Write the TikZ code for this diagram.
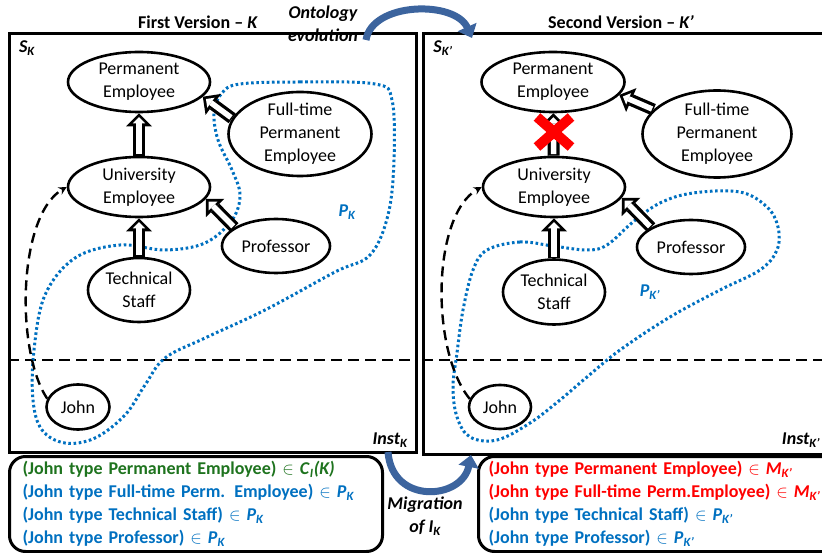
\documentclass[tikz,border=0pt]{standalone}
\usepackage{fontspec}
\setmainfont{Carlito}
\usepackage{tikz}
\usetikzlibrary{arrows.meta, positioning, shapes.geometric, shapes.misc}
\definecolor{kblue}{RGB}{0,112,192}
\definecolor{kgreen}{RGB}{30,115,30}
\definecolor{kred}{RGB}{255,0,0}
\definecolor{flowblue}{RGB}{60,100,158}
\newcommand{\ksub}[2]{\textit{#1}\textsubscript{\textit{#2}}}

\begin{document}
\begin{tikzpicture}[
  x=1pt, y=-1pt,
  cls/.style={ellipse, draw, line width=2.6pt, inner sep=-3pt, align=center, font=\fontsize{18}{23}\selectfont},
  isa/.style={line width=12pt, -{Triangle[width=26pt, length=13pt, line width=0pt]},
    postaction={draw=white, line width=5.5pt, shorten <=1.5pt, shorten >=3.9pt, -{Triangle[width=12.4pt, length=6.2pt, line width=0pt]}}},
  inst/.style={line width=2.4pt, dash pattern=on 10pt off 6pt, -{Stealth[length=8pt, width=8pt]}},
  area/.style={kblue, line width=3pt, dash pattern=on 2.6pt off 2.6pt},
  sep/.style={line width=2.4pt, dash pattern=on 11pt off 6pt},
  frame/.style={draw, line width=3pt, rectangle, inner sep=0pt, anchor=north west},
  tag/.style={font=\fontsize{18}{23}\selectfont\bfseries\itshape},
  facts/.style={draw, line width=3pt, rounded corners=16pt, anchor=north west, align=left, inner ysep=0pt, minimum height=95pt, font=\fontsize{18}{23}\selectfont\bfseries},
  flow/.style={flowblue, line width=7pt, -{Triangle[width=20pt, length=12pt]}}
]
\useasboundingbox (0,0) rectangle (822,553);

% the two versions
\node[frame, minimum width=407pt, minimum height=419pt] (box1) at (8,32) {};
\node[frame, minimum width=404pt, minimum height=421pt] (box2) at (422,32) {};
\coordinate (cut) at (0,360);
\draw[sep] (box1.west |- cut) -- (box1.east |- cut);
\draw[sep] (box2.west |- cut) -- (box2.east |- cut);

\node[font=\fontsize{18}{23}\selectfont\bfseries] (t1) at (198,22) {First Version – \textit{K}};
\node[font=\fontsize{18}{23}\selectfont\bfseries] (t2) at (621,22) {Second Version – \textit{K’}};
\node[tag] (sk1) at (27,48) {S\textsubscript{K}};
\node[tag] (sk2) at (443,48) {S\textsubscript{K’}};
\node[tag] (ik1) at (390,440) {Inst\textsubscript{K}};
\node[tag] (ik2) at (801,440) {Inst\textsubscript{K’}};

% first version
\draw[area] plot[smooth cycle, tension=0.6] coordinates {(240,84) (300,82) (375,84) (392,100) (394,160) (388,215) (370,255) (335,272) (265,310) (205,338) (165,358) (145,385) (125,415) (95,438) (65,443) (42,430) (33,400) (34,350) (45,295) (75,258) (120,245) (165,250) (205,243) (232,220) (240,195) (232,170) (218,140) (214,112) (222,93)};
\node[tag, kblue] (pk1) at (347,212) {P\textsubscript{K}};

\node[cls, minimum width=142pt, minimum height=60pt] (pe1) at (139,82) {Permanent\\Employee};
\node[cls, minimum width=143pt, minimum height=84pt] (ft1) at (300,134) {Full-time\\Permanent\\Employee};
\node[cls, minimum width=142pt, minimum height=60pt] (ue1) at (139,187) {University\\Employee};
\node[cls, minimum width=108pt, minimum height=54pt] (pr1) at (276,246) {Professor};
\node[cls, minimum width=102pt, minimum height=64pt] (ts1) at (139,290) {Technical\\Staff};
\node[cls, minimum width=63pt, minimum height=45pt] (jo1) at (78,407) {John};

\draw[isa] (ue1) -- (pe1);
\draw[isa] (ft1.167) -- (pe1.-13);
\draw[isa] (pr1.156) -- (ue1.-10);
\draw[isa] (ts1) -- (ue1);
\draw[inst] (jo1.165) .. controls (15,350) and (18,215) .. (ue1.west);

% second version
\draw[area] plot[smooth cycle, tension=0.6] coordinates {(487,250) (520,242) (553,246) (587,250) (607,245) (633,222) (660,203) (693,193) (740,192) (767,207) (778,227) (777,250) (760,270) (720,290) (670,317) (620,350) (587,377) (560,400) (530,423) (497,440) (470,437) (457,417) (453,387) (457,353) (463,310) (473,270)};
\node[tag, kblue] (pk2) at (650,292) {P\textsubscript{K’}};

\node[cls, minimum width=143pt, minimum height=60pt] (pe2) at (553,82) {Permanent\\Employee};
\node[cls, minimum width=149pt, minimum height=87pt] (ft2) at (717,134) {Full-time\\Permanent\\Employee};
\node[cls, minimum width=142pt, minimum height=60pt] (ue2) at (554,187) {University\\Employee};
\node[cls, minimum width=108pt, minimum height=54pt] (pr2) at (691,247) {Professor};
\node[cls, minimum width=102pt, minimum height=65pt] (ts2) at (554,292) {Technical\\Staff};
\node[cls, minimum width=62pt, minimum height=44pt] (jo2) at (500,407) {John};

\draw[isa] (ue2) -- (pe2);
\node[cross out, draw=kred, line width=10pt, minimum width=24pt, minimum height=20pt] (no) at (554,132) {};
\draw[isa] (ft2.159) -- (pe2.-11);
\draw[isa] (pr2.154) -- (ue2.-9);
\draw[isa] (ts2) -- (ue2);
\draw[inst] (jo2.165) .. controls (430,350) and (432,215) .. (ue2.west);

% instance facts
\node[facts, inner xsep=13pt, text width=347pt] (f1) at (8,455) {%
  \textcolor{kgreen}{(John type Permanent Employee) $\in$ \ksub{C}{I}\textit{(K)}}\\
  \textcolor{kblue}{(John type Full-time\hspace{6pt}Perm. Employee) $\in$ \ksub{P}{K}}\\
  \textcolor{kblue}{(John type Technical\hspace{6pt}Staff) $\in$ \ksub{P}{K}}\\
  \textcolor{kblue}{(John type Professor) $\in$ \ksub{P}{K}}};
\node[facts, inner xsep=10pt, text width=345pt] (f2) at (477,455) {%
  \textcolor{kred}{(John type Permanent Employee) $\in$ \ksub{M}{K’}}\\
  \textcolor{kred}{(John type Full-time Perm.Employee) $\in$ \ksub{M}{K’}}\\
  \textcolor{kblue}{(John type Technical\hspace{6pt}Staff) $\in$ \ksub{P}{K’}}\\
  \textcolor{kblue}{(John type Professor) $\in$ \ksub{P}{K’}}};

% evolution and migration
\node[tag, align=center] (oe) at (323,24) {Ontology\\evolution};
\coordinate (oa) at (366,40);
\coordinate (ob) at (472,38);
\draw[flow] (oa) .. controls (372,2) and (455,0) .. (ob);
\node[tag, align=center] (mi) at (425,516) {Migration\\of I\textsubscript{K}};
\coordinate (ma) at (388,452);
\coordinate (mb) at (471,455);
\draw[flow] (ma) .. controls (392,505) and (462,500) .. (mb);
\end{tikzpicture}
\end{document}
